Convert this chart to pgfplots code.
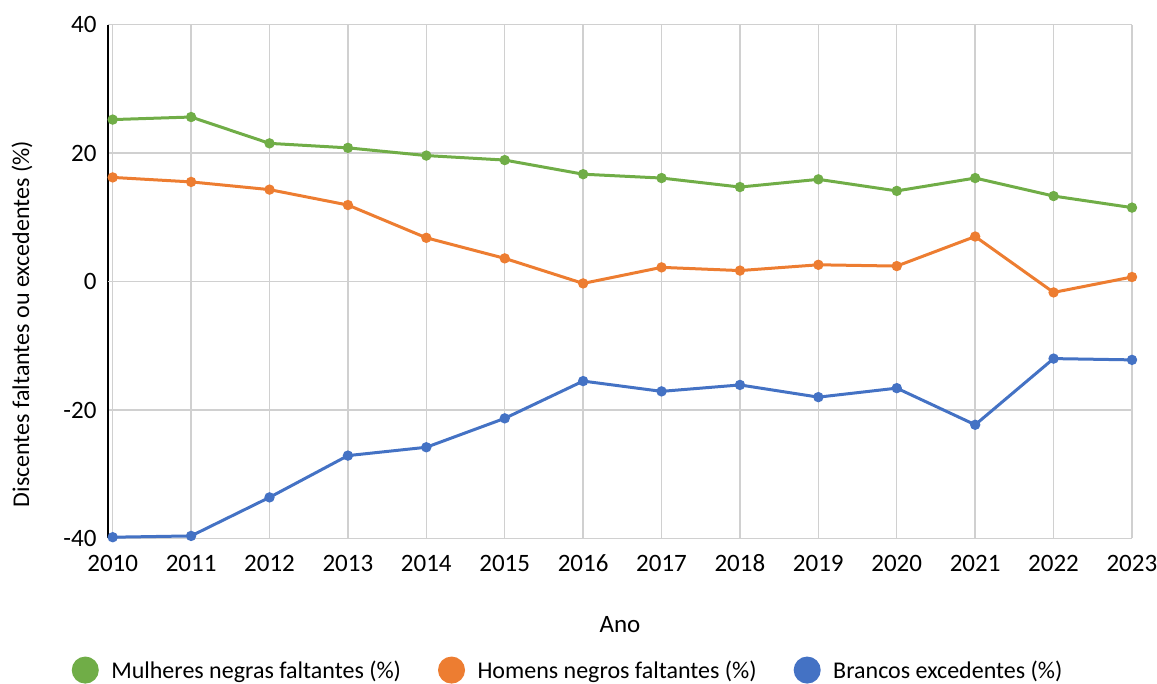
\documentclass[border=0pt]{standalone}
\usepackage{pgfplots}
\pgfplotsset{compat=1.18}
\usepackage{fontspec}
\setmainfont{Carlito}
\definecolor{cgreen}{HTML}{70AD47}
\definecolor{corange}{HTML}{ED7D31}
\definecolor{cblue}{HTML}{4472C4}
\definecolor{cgrid}{HTML}{D0D0D0}
\begin{document}
\begin{tikzpicture}
\useasboundingbox (-108pt,-145.5pt) rectangle (1049pt,538.5pt);
\begin{axis}[
  at={(0,0)}, anchor=south west,
  scale only axis,
  width=1024pt, height=514pt,
  xmin=2009.94, xmax=2023,
  ymin=-40, ymax=40,
  xtick={2010,...,2023},
  ytick={-40,-20,0,20,40},
  xticklabel style={/pgf/number format/1000 sep={}},
  /pgf/number format/assume math mode=true,
  tick label style={font=\fontsize{25}{29}\selectfont, text=black},
  xticklabel style={anchor=base, yshift=-33pt},
  yticklabel style={xshift=-8pt},
  major tick length=0pt,
  grid=major,
  major grid style={cgrid, line width=1.4pt},
  axis x line*=bottom,
  axis y line*=left,
  x axis line style={draw=none},
  y axis line style={black, line width=1.2pt},
  extra y ticks={0},
  extra y tick labels={},
  extra y tick style={grid style={black, line width=1.2pt}},
  xlabel={Ano},
  ylabel={Discentes faltantes ou excedentes (\%)},
  xlabel style={font=\fontsize{25}{29}\selectfont, at={(axis description cs:0.5,0)}, anchor=center, yshift=-86pt},
  ylabel style={font=\fontsize{24}{28}\selectfont, at={(axis description cs:-0.084,0.417)}, anchor=center},
  clip=false,
  legend columns=3,
  legend style={draw=none, fill=none, at={(axis description cs:-0.0385,-0.256)}, anchor=west,
    font=\fontsize{24}{28}\selectfont,
    /tikz/every even column/.append style={column sep=35pt}},
  legend image code/.code={\fill[#1] (0pt,0pt) circle (12pt); \path[draw=none,fill=none] (-12pt,0pt) -- (24pt,0pt);},
  every axis plot/.append style={line width=3pt, mark=*, mark size=3.6pt},
]
\addplot[cgreen, mark options={fill=cgreen, draw=cgreen}] coordinates {
(2010,25.2)(2011,25.6)(2012,21.5)(2013,20.8)(2014,19.6)(2015,18.9)(2016,16.7)
(2017,16.1)(2018,14.7)(2019,15.9)(2020,14.1)(2021,16.1)(2022,13.3)(2023,11.5)};
\addlegendentry{Mulheres negras faltantes (\%)}
\addplot[corange, mark options={fill=corange, draw=corange}] coordinates {
(2010,16.2)(2011,15.5)(2012,14.3)(2013,11.9)(2014,6.8)(2015,3.6)(2016,-0.3)
(2017,2.2)(2018,1.7)(2019,2.6)(2020,2.4)(2021,7.0)(2022,-1.7)(2023,0.7)};
\addlegendentry{Homens negros faltantes (\%)}
\addplot[cblue, mark options={fill=cblue, draw=cblue}] coordinates {
(2010,-39.8)(2011,-39.6)(2012,-33.6)(2013,-27.1)(2014,-25.8)(2015,-21.3)(2016,-15.5)
(2017,-17.1)(2018,-16.1)(2019,-18.0)(2020,-16.6)(2021,-22.3)(2022,-12.0)(2023,-12.2)};
\addlegendentry{Brancos excedentes (\%)}
\end{axis}
\end{tikzpicture}
\end{document}
